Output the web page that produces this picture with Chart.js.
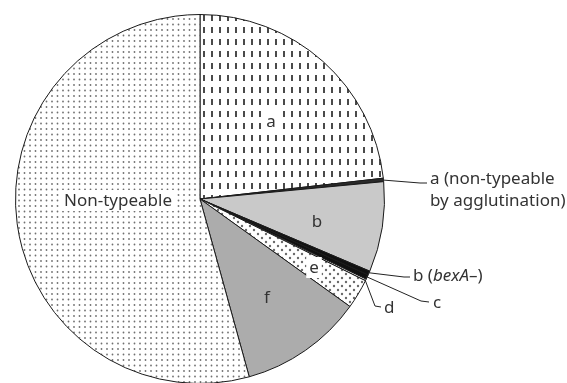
<!DOCTYPE html>
<html>
<head>
<meta charset="utf-8">
<script src="https://cdn.jsdelivr.net/npm/chart.js@4.4.1/dist/chart.umd.min.js"></script>
<style>
  html, body { margin: 0; padding: 0; background: #fff; overflow: hidden; }
  canvas { display: block; }
</style>
</head>
<body>
<canvas id="pie" width="567" height="400"></canvas>
<script>
// slices, clockwise from 12 o'clock
const groups = ["a", "a (non-typeable by agglutination)", "b", "b (bexA–)", "c", "d", "e", "f", "Non-typeable"];
const shares = [23.2, 0.3, 7.9, 0.35, 0.4, 0.15, 2.6, 10.8, 54.3];

const FONT = "17px 'Noto Sans', sans-serif";
const INK = "#333";

function makePattern(w, h, draw) {
  let c = document.createElement("canvas");
  c.width = w;
  c.height = h;
  let g = c.getContext("2d");
  g.fillStyle = "#fff";
  g.fillRect(0, 0, w, h);
  draw(g);
  return document.getElementById("pie").getContext("2d").createPattern(c, "repeat");
}

function dot(g, x, y, r) {
  g.beginPath();
  g.arc(x, y, r, 0, Math.PI * 2);
  g.fill();
}

let dashes = makePattern(8, 12, g => {
  g.fillStyle = "#4a4a4a";
  g.fillRect(3, 3, 2, 6);
});
let fineDots = makePattern(11, 11, g => {
  g.fillStyle = "#707070";
  dot(g, 2.5, 2.5, 0.9);
  dot(g, 8, 2.5, 0.9);
  dot(g, 2.5, 8, 0.9);
  dot(g, 8, 8, 0.9);
});
let bigDots = makePattern(8, 8, g => {
  g.fillStyle = "#6a6a6a";
  dot(g, 2, 2, 1.2);
  dot(g, 6, 6, 1.2);
});

let fills = [dashes, "#2a2a2a", "#c9c9c9", "#111", "#111", "#fff", bigDots, "#acacac", fineDots];

// text inside slices: [slice index, x, y, white box]
let insideLabels = [
  [0, 271, 121, true],
  [2, 317, 221, false],
  [6, 314, 267, true],
  [7, 267, 297, false],
  [8, 118, 200, true]
];
let insideText = ["a", "", "b", "", "", "", "e", "f", "Non-typeable"];

// leader lines for the thin slices: bend points, then text
let callouts = [
  { i: 1, path: [[420, 183], [427, 183]], x: 430, y: [178, 200], text: ["a (non-typeable", "by agglutination)"] },
  { i: 3, path: [[404, 277], [410, 277]], x: 413, y: [275], text: null },
  { i: 4, path: [[421, 301], [429, 302]], x: 433, y: [302], text: ["c"] },
  { i: 5, path: [[375, 306], [381, 307]], x: 384, y: [307], text: ["d"] }
];

const labelPlugin = {
  id: "labels",
  afterDraw(chart) {
    let ctx = chart.ctx;
    let arcs = chart.getDatasetMeta(0).data;
    ctx.save();
    ctx.font = FONT;
    ctx.textBaseline = "middle";

    insideLabels.forEach(([i, x, y, box]) => {
      let t = insideText[i];
      let w = ctx.measureText(t).width;
      if (box) {
        ctx.fillStyle = "#fff";
        ctx.fillRect(x - w / 2 - 3, y - 10, w + 6, 21);
      }
      ctx.fillStyle = INK;
      ctx.textAlign = "center";
      ctx.fillText(t, x, y + 1);
    });

    callouts.forEach(c => {
      let a = arcs[c.i];
      let mid = (a.startAngle + a.endAngle) / 2;
      ctx.strokeStyle = "#222";
      ctx.lineWidth = 1;
      ctx.beginPath();
      ctx.moveTo(a.x + Math.cos(mid) * (a.outerRadius - 1), a.y + Math.sin(mid) * (a.outerRadius - 1));
      c.path.forEach(p => ctx.lineTo(p[0], p[1]));
      ctx.stroke();

      ctx.fillStyle = INK;
      ctx.textAlign = "left";
      if (c.text) {
        c.text.forEach((t, k) => ctx.fillText(t, c.x, c.y[k] + 1));
      } else {
        // b (bexA–) with the gene name in italics
        let x = c.x;
        ctx.fillText("b (", x, c.y[0] + 1);
        x += ctx.measureText("b (").width;
        ctx.font = "italic " + FONT;
        ctx.fillText("bexA", x, c.y[0] + 1);
        x += ctx.measureText("bexA").width;
        ctx.font = FONT;
        ctx.fillText("–)", x, c.y[0] + 1);
      }
    });
    ctx.restore();
  }
};

new Chart(document.getElementById("pie"), {
  type: "pie",
  data: {
    labels: groups,
    datasets: [{
      data: shares,
      backgroundColor: fills,
      borderColor: "#1a1a1a",
      borderWidth: 1
    }]
  },
  options: {
    responsive: false,
    animation: false,
    layout: { padding: { left: 15, top: 14, right: 182, bottom: 16 } },
    plugins: {
      legend: { display: false },
      tooltip: { enabled: false }
    }
  },
  plugins: [labelPlugin]
});
</script>
</body>
</html>
